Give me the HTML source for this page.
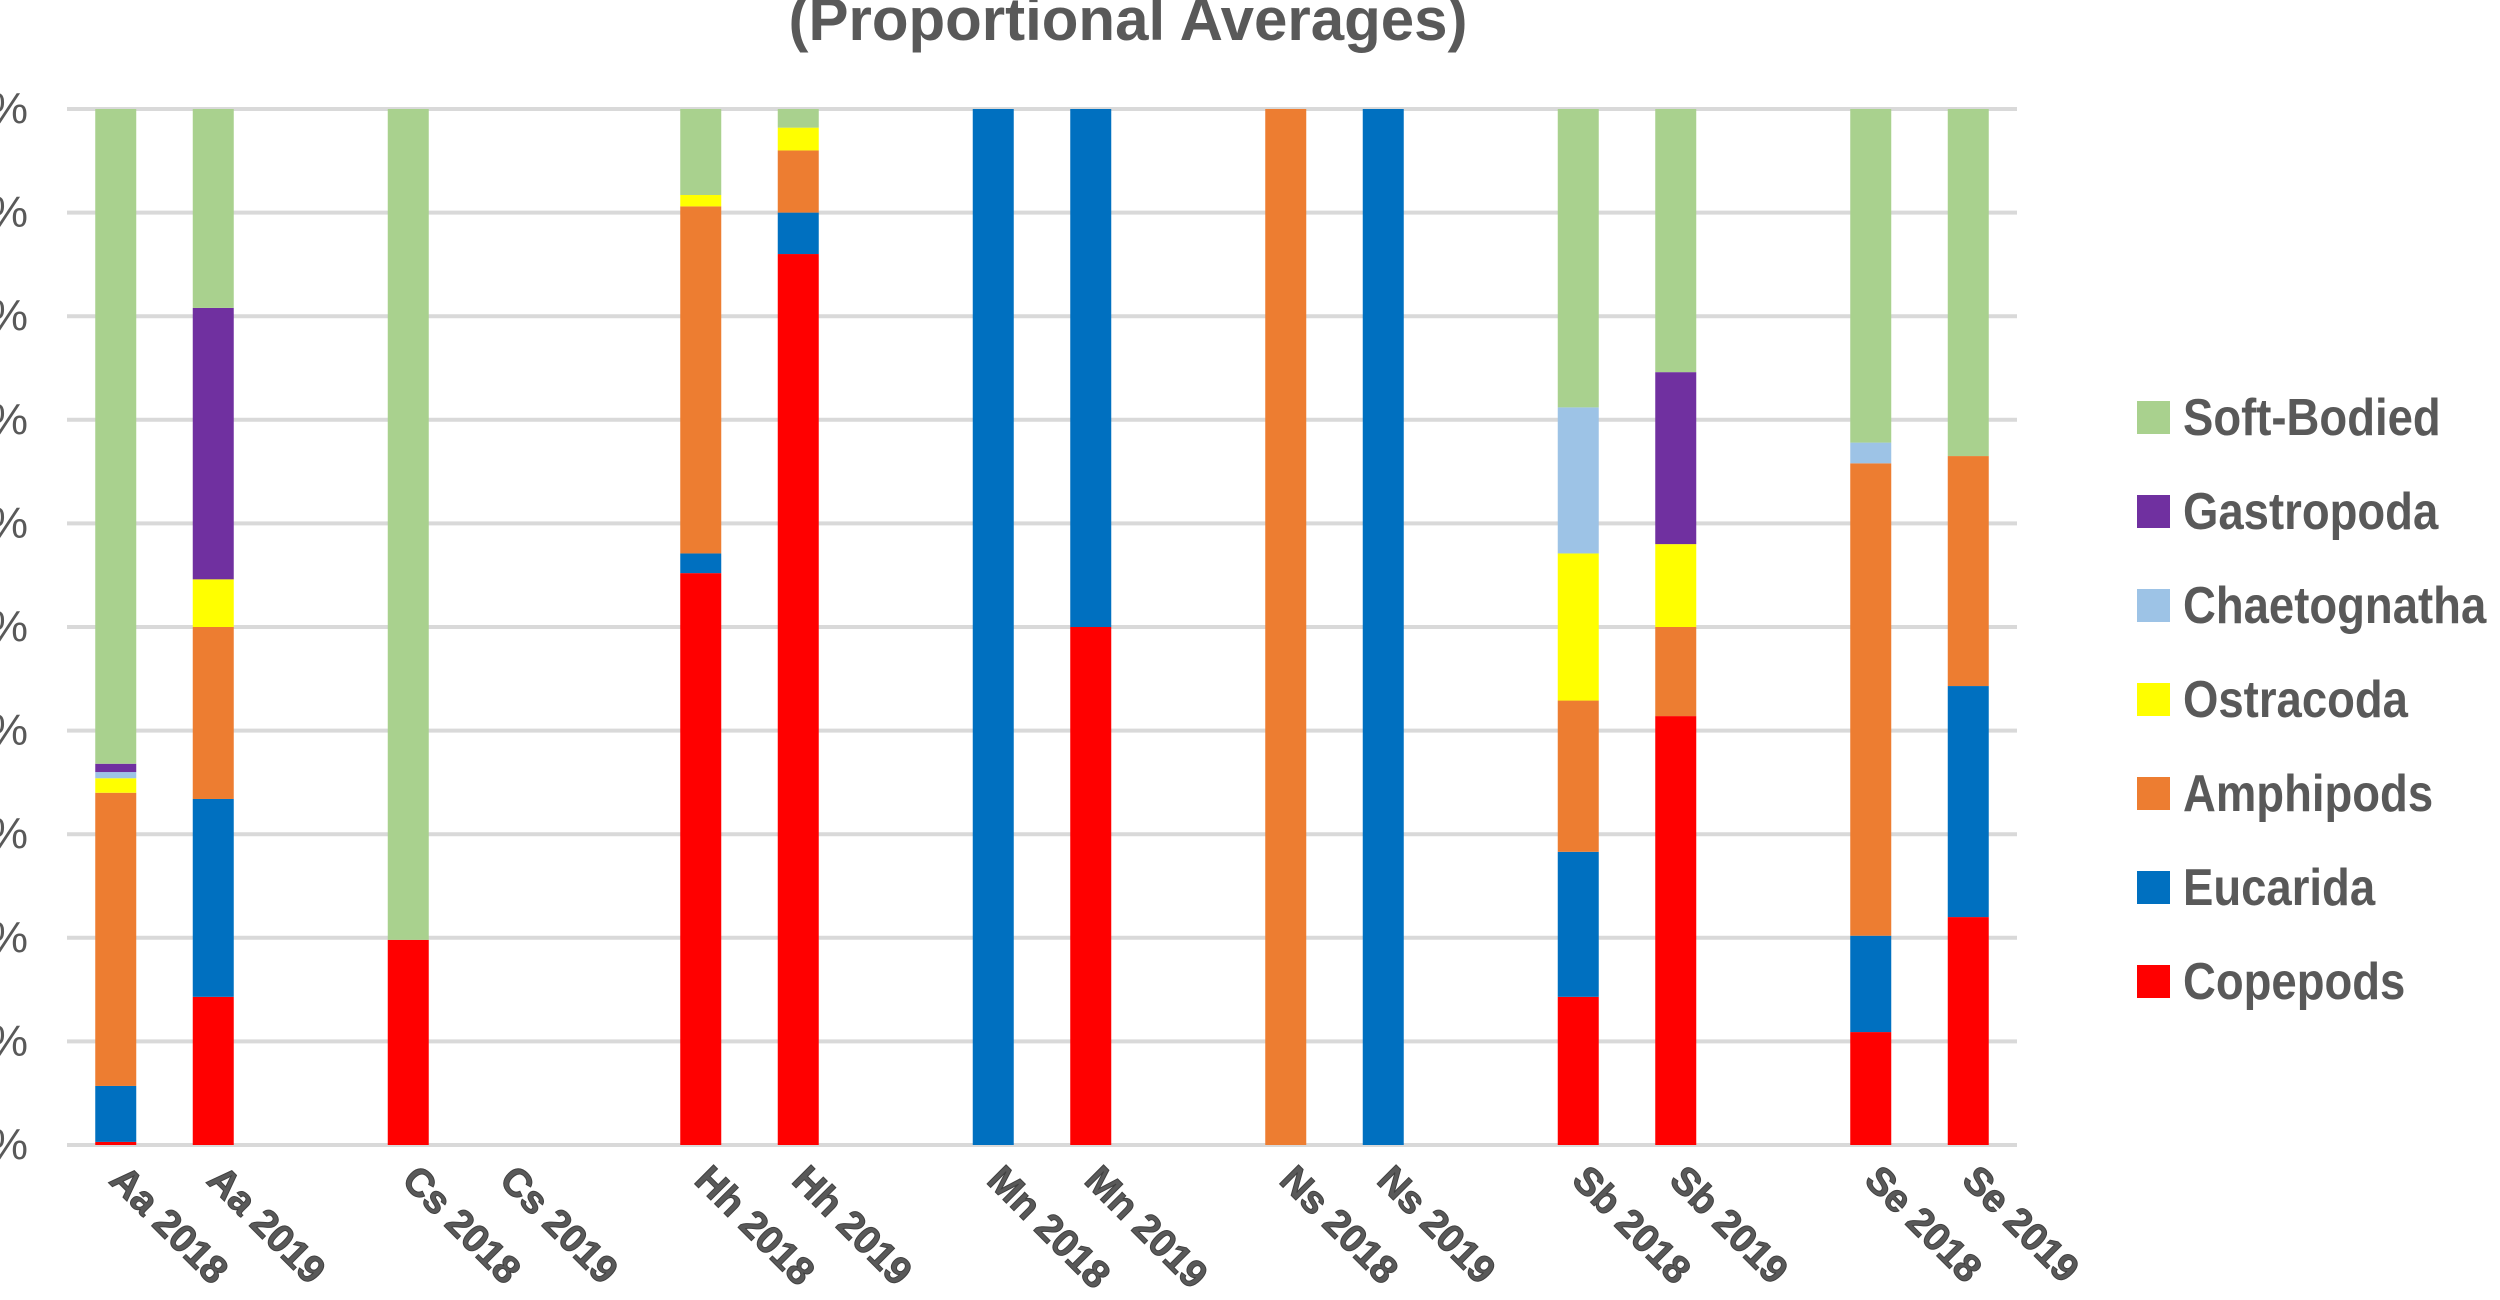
<!DOCTYPE html>
<html><head><meta charset="utf-8"><style>
html,body{margin:0;padding:0;background:#fff;}
svg{display:block;font-family:"Liberation Sans",sans-serif;}
</style></head><body>
<svg id="chart" width="2500" height="1300" viewBox="0 0 2500 1300" xmlns="http://www.w3.org/2000/svg">
<text x="1128" y="40" text-anchor="middle" font-size="60" font-weight="bold" fill="#595959">(Proportional Averages)</text>
<g id="grid"></g>
<g id="ylabels"></g>
<g id="bars"></g>
<g id="xlabels"></g>
<g id="legend"></g>
</svg>
<script>
const categories = ["Aa 2018","Aa 2019","","Cs 2018","Cs 2019","","Hh 2018","Hh 2019","","Mn 2018","Mn 2019","","Ns 2018","Ns 2019","","Sb 2018","Sb 2019","","Se 2018","Se 2019"];
const seriesNames = ["Copepods","Eucarida","Amphipods","Ostracoda","Chaetognatha","Gastropoda","Soft-Bodied"];
const seriesColors = ["#ff0000","#0070c0","#ed7d31","#ffff00","#9dc3e6","#7030a0","#a9d18e"];
const copepods     = [0.3,14.3,0,19.8,0,0,55.2,86,0,0,50,0,0,0,0,14.3,41.4,0,10.9,22];
const eucarida     = [5.4,19.1,0,0,0,0,1.9,4,0,100,50,0,0,100,0,14,0,0,9.3,22.3];
const amphipods    = [28.3,16.6,0,0,0,0,33.5,6,0,0,0,0,100,0,0,14.6,8.6,0,45.6,22.2];
const ostracoda    = [1.4,4.6,0,0,0,0,1.1,2.2,0,0,0,0,0,0,0,14.2,8,0,0,0];
const chaetognatha = [0.6,0,0,0,0,0,0,0,0,0,0,0,0,0,0,14.1,0,0,2,0];
const gastropoda   = [0.8,26.2,0,0,0,0,0,0,0,0,0,0,0,0,0,0,16.6,0,0,0];
const softBodied   = [63.2,19.2,0,80.2,0,0,8.3,1.8,0,0,0,0,0,0,0,28.8,25.4,0,32.2,33.5];
const yTicks = [0,10,20,30,40,50,60,70,80,90,100];

const series = [copepods,eucarida,amphipods,ostracoda,chaetognatha,gastropoda,softBodied];
const NS="http://www.w3.org/2000/svg";
const plotL=67, plotR=2017, plotT=109, plotB=1145;
const slot=(plotR-plotL)/categories.length, barW=41;
function yS(v){return plotB-(v/100)*(plotB-plotT);}
function xC(i){return plotL+slot*(i+0.5);}
function mk(tag,attrs,parent){const e=document.createElementNS(NS,tag);for(const k in attrs)e.setAttribute(k,attrs[k]);parent.appendChild(e);return e;}

const grid=document.getElementById('grid'), yl=document.getElementById('ylabels');
yTicks.forEach(t=>{
  const l=mk('line',{x1:plotL,x2:plotR,y1:yS(t),y2:yS(t),stroke:'#d9d9d9','stroke-width':4},grid);
  
  
  const tx=mk('text',{x:28,y:yS(t)+14,'text-anchor':'end','font-size':44,fill:'#595959'},yl);
  tx.textContent=t+'%';
  
  
});

const bars=document.getElementById('bars');
categories.forEach((c,i)=>{
  let cum=0;
  series.forEach((s,k)=>{
    const v=s[i]; if(!v) return;
    const y0=yS(cum), y1=yS(cum+v); cum+=v;
    const r=mk('rect',{x:xC(i)-barW/2,y:y1,width:barW,height:y0-y1,fill:seriesColors[k]},bars);
    
    
  });
});

const xl=document.getElementById('xlabels');
categories.forEach((c,i)=>{
  if(!c) return;
  const x=xC(i)-8, y=1182;
  const t=mk('text',{x:x,y:y,'font-size':39,'font-weight':'bold',fill:'#595959',stroke:'#404040','stroke-width':1,transform:`rotate(45 ${x} ${y})`},xl);
  t.textContent=c;
  
  
});

const lg=document.getElementById('legend');
const order=[6,5,4,3,2,1,0];
order.forEach((k,j)=>{
  const cy=417+j*94;
  const g=mk('g',{},lg);
  
  
  mk('rect',{x:2137,y:cy-16,width:33,height:33,fill:seriesColors[k]},g);
  const t=mk('text',{x:2183,y:cy+18,'font-size':52,'font-weight':'bold',fill:'#595959',transform:`translate(2183,0) scale(0.875,1) translate(-2183,0)`},g);
  t.textContent=seriesNames[k];
  
  
});
</script>
</body></html>
